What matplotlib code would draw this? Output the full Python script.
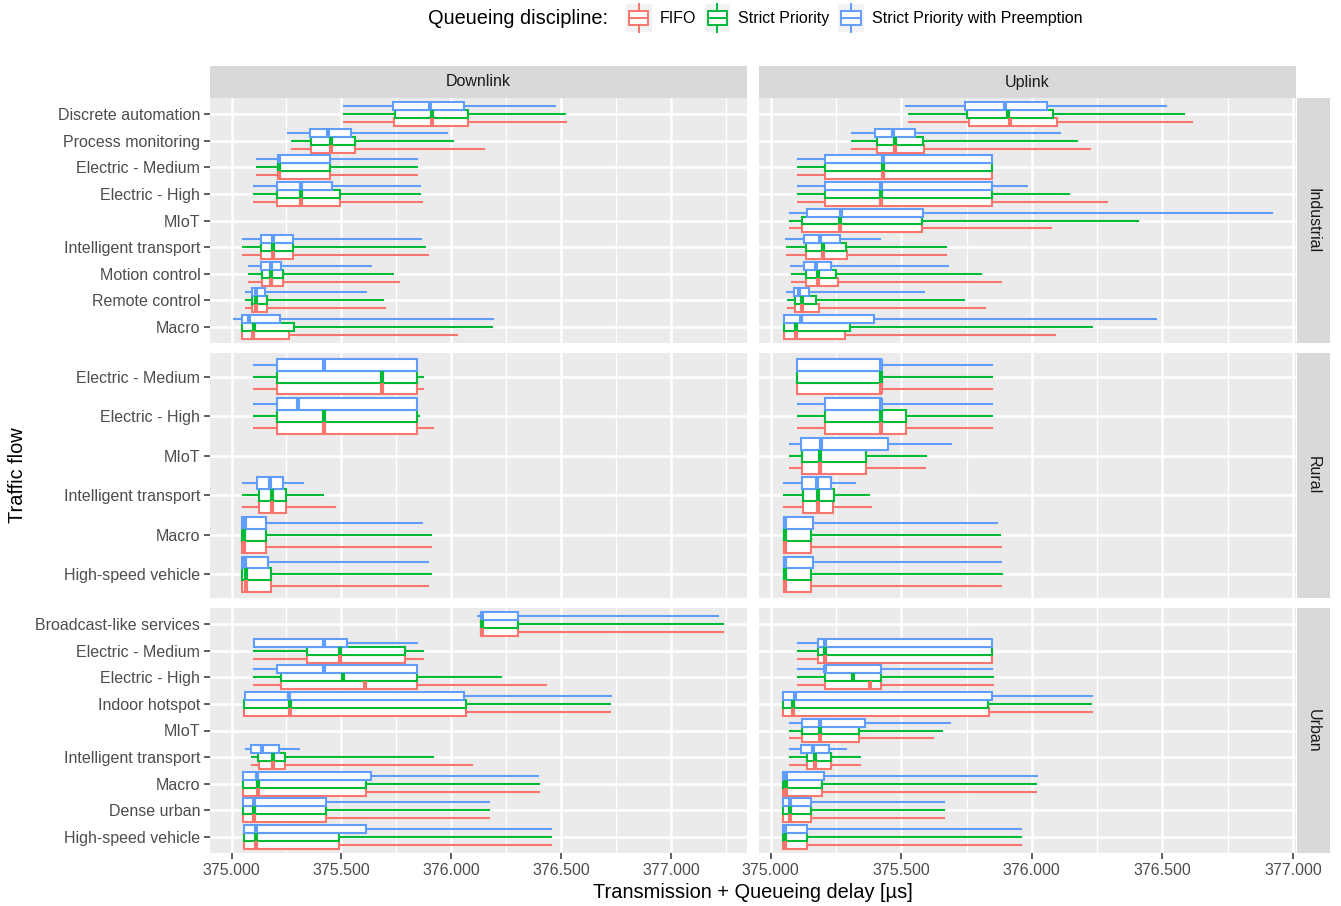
import matplotlib
matplotlib.use("Agg")
import matplotlib.pyplot as plt
from matplotlib.patches import Rectangle, Patch
from matplotlib.lines import Line2D
from matplotlib.legend_handler import HandlerBase
from matplotlib.ticker import MultipleLocator, StrMethodFormatter

plt.rcParams["font.family"] = ["Liberation Sans", "DejaVu Sans"]

# ── datos ──
DISCIPLINES = ["FIFO", "Strict Priority", "Strict Priority with Preemption"]
COLORS = ["#F8766D", "#00BA38", "#619CFF"]
DIRECTIONS = ["Downlink", "Uplink"]
SCENARIOS = ["Industrial", "Rural", "Urban"]

# flujos de arriba hacia abajo
IND_FLOWS = ["Discrete automation", "Process monitoring", "Electric - Medium",
             "Electric - High", "MIoT", "Intelligent transport", "Motion control",
             "Remote control", "Macro"]
RUR_FLOWS = ["Electric - Medium", "Electric - High", "MIoT",
             "Intelligent transport", "Macro", "High-speed vehicle"]
URB_FLOWS = ["Broadcast-like services", "Electric - Medium", "Electric - High",
             "Indoor hotspot", "MIoT", "Intelligent transport", "Macro",
             "Dense urban", "High-speed vehicle"]

# (bigote inf, q1, mediana, q3, bigote sup) para FIFO, SP, SP+preemption; None = sin datos
IND_DL = {
    "Discrete automation": [(375.511, 375.739, 375.914, 376.078, 376.524),
                            (375.511, 375.742, 375.914, 376.075, 376.519),
                            (375.511, 375.735, 375.903, 376.060, 376.474)],
    "Process monitoring": [(375.274, 375.362, 375.453, 375.560, 376.149),
                           (375.274, 375.362, 375.453, 375.560, 376.008),
                           (375.258, 375.357, 375.438, 375.544, 375.979)],
    "Electric - Medium": [(375.114, 375.211, 375.216, 375.450, 375.843),
                          (375.114, 375.211, 375.214, 375.450, 375.843),
                          (375.114, 375.211, 375.214, 375.450, 375.843)],
    "Electric - High": [(375.104, 375.208, 375.317, 375.495, 375.865),
                        (375.104, 375.208, 375.317, 375.495, 375.860),
                        (375.104, 375.208, 375.317, 375.459, 375.856)],
    "MIoT": None,
    "Intelligent transport": [(375.050, 375.135, 375.188, 375.279, 375.893),
                              (375.050, 375.135, 375.188, 375.279, 375.880),
                              (375.050, 375.135, 375.188, 375.279, 375.864)],
    "Motion control": [(375.080, 375.138, 375.179, 375.235, 375.761),
                       (375.080, 375.138, 375.179, 375.235, 375.734),
                       (375.080, 375.135, 375.179, 375.227, 375.636)],
    "Remote control": [(375.067, 375.094, 375.109, 375.162, 375.698),
                       (375.067, 375.094, 375.109, 375.161, 375.688),
                       (375.067, 375.093, 375.109, 375.153, 375.612)],
    "Macro": [(375.049, 375.049, 375.097, 375.260, 376.026),
              (375.049, 375.049, 375.102, 375.282, 376.185),
              (375.013, 375.049, 375.078, 375.221, 376.190)],
}

IND_UL = {
    "Discrete automation": [(375.529, 375.760, 375.917, 376.098, 376.613),
                            (375.529, 375.753, 375.910, 376.083, 376.583),
                            (375.520, 375.743, 375.896, 376.059, 376.515)],
    "Process monitoring": [(375.311, 375.407, 375.477, 375.586, 376.222),
                           (375.311, 375.407, 375.477, 375.582, 376.172),
                           (375.311, 375.401, 375.470, 375.552, 376.109)],
    "Electric - Medium": [(375.104, 375.207, 375.432, 375.847, 375.847),
                          (375.104, 375.207, 375.432, 375.847, 375.847),
                          (375.104, 375.207, 375.432, 375.847, 375.847)],
    "Electric - High": [(375.104, 375.207, 375.421, 375.847, 376.287),
                        (375.104, 375.207, 375.421, 375.847, 376.144),
                        (375.104, 375.207, 375.421, 375.847, 375.982)],
    "MIoT": [(375.075, 375.119, 375.267, 375.578, 376.074),
             (375.075, 375.119, 375.267, 375.578, 376.407),
             (375.075, 375.139, 375.271, 375.584, 376.918)],
    "Intelligent transport": [(375.061, 375.135, 375.200, 375.293, 375.672),
                              (375.061, 375.134, 375.200, 375.287, 375.672),
                              (375.059, 375.129, 375.191, 375.264, 375.418)],
    "Motion control": [(375.082, 375.136, 375.183, 375.257, 375.883),
                       (375.082, 375.136, 375.183, 375.249, 375.807),
                       (375.079, 375.129, 375.174, 375.232, 375.681)],
    "Remote control": [(375.065, 375.094, 375.119, 375.185, 375.820),
                       (375.065, 375.094, 375.119, 375.174, 375.741),
                       (375.064, 375.090, 375.110, 375.147, 375.586)],
    "Macro": [(375.050, 375.050, 375.097, 375.285, 376.090),
              (375.050, 375.050, 375.097, 375.305, 376.229),
              (375.050, 375.050, 375.116, 375.395, 376.474)],
}

RUR_DL = {
    "Electric - Medium": [(375.104, 375.208, 375.683, 375.844, 375.870),
                          (375.104, 375.208, 375.683, 375.844, 375.870),
                          (375.104, 375.208, 375.419, 375.844, 375.844)],
    "Electric - High": [(375.104, 375.208, 375.419, 375.844, 375.917),
                        (375.104, 375.208, 375.419, 375.844, 375.852),
                        (375.104, 375.208, 375.302, 375.844, 375.844)],
    "MIoT": None,
    "Intelligent transport": [(375.052, 375.125, 375.183, 375.250, 375.472),
                              (375.052, 375.125, 375.183, 375.247, 375.416),
                              (375.050, 375.117, 375.174, 375.232, 375.323)],
    "Macro": [(375.049, 375.049, 375.058, 375.156, 375.906),
              (375.049, 375.049, 375.058, 375.156, 375.906),
              (375.049, 375.049, 375.060, 375.159, 375.865)],
    "High-speed vehicle": [(375.049, 375.049, 375.067, 375.179, 375.894),
                           (375.049, 375.049, 375.067, 375.179, 375.906),
                           (375.049, 375.049, 375.063, 375.167, 375.893)],
}

RUR_UL = {
    "Electric - Medium": [(375.102, 375.102, 375.421, 375.422, 375.847),
                          (375.102, 375.102, 375.421, 375.422, 375.847),
                          (375.102, 375.102, 375.421, 375.422, 375.847)],
    "Electric - High": [(375.104, 375.208, 375.421, 375.520, 375.847),
                        (375.104, 375.208, 375.421, 375.520, 375.847),
                        (375.104, 375.208, 375.421, 375.422, 375.847)],
    "MIoT": [(375.076, 375.119, 375.191, 375.365, 375.591),
             (375.076, 375.119, 375.191, 375.365, 375.594),
             (375.076, 375.117, 375.192, 375.451, 375.689)],
    "Intelligent transport": [(375.050, 375.123, 375.181, 375.240, 375.383),
                              (375.050, 375.123, 375.181, 375.241, 375.376),
                              (375.050, 375.119, 375.177, 375.233, 375.323)],
    "Macro": [(375.050, 375.050, 375.057, 375.153, 375.883),
              (375.050, 375.050, 375.057, 375.153, 375.880),
              (375.050, 375.050, 375.057, 375.163, 375.866)],
    "High-speed vehicle": [(375.050, 375.050, 375.057, 375.155, 375.883),
                           (375.050, 375.050, 375.057, 375.154, 375.885),
                           (375.050, 375.050, 375.057, 375.163, 375.883)],
}

URB_DL = {
    "Broadcast-like services": [(376.136, 376.136, 376.140, 376.304, 377.235),
                                (376.136, 376.136, 376.140, 376.304, 377.235),
                                (376.120, 376.136, 376.140, 376.304, 377.214)],
    "Electric - Medium": [(375.102, 375.344, 375.492, 375.791, 375.872),
                          (375.102, 375.344, 375.492, 375.791, 375.872),
                          (375.102, 375.102, 375.419, 375.526, 375.843)],
    "Electric - High": [(375.102, 375.224, 375.606, 375.844, 376.433),
                        (375.102, 375.224, 375.505, 375.844, 376.227),
                        (375.102, 375.208, 375.419, 375.844, 375.844)],
    "Indoor hotspot": [(375.057, 375.057, 375.265, 376.065, 376.721),
                       (375.057, 375.057, 375.265, 376.065, 376.721),
                       (375.060, 375.060, 375.261, 376.060, 376.726)],
    "MIoT": None,
    "Intelligent transport": [(375.093, 375.127, 375.188, 375.244, 376.093),
                              (375.093, 375.119, 375.188, 375.244, 375.919),
                              (375.067, 375.089, 375.140, 375.218, 375.307)],
    "Macro": [(375.050, 375.050, 375.119, 375.612, 376.401),
              (375.050, 375.050, 375.119, 375.612, 376.401),
              (375.050, 375.050, 375.115, 375.636, 376.396)],
    "Dense urban": [(375.050, 375.050, 375.104, 375.430, 376.174),
                    (375.050, 375.050, 375.104, 375.430, 376.174),
                    (375.050, 375.050, 375.104, 375.430, 376.174)],
    "High-speed vehicle": [(375.055, 375.055, 375.110, 375.489, 376.455),
                           (375.055, 375.055, 375.110, 375.489, 376.455),
                           (375.055, 375.055, 375.110, 375.614, 376.455)],
}

URB_UL = {
    "Broadcast-like services": None,
    "Electric - Medium": [(375.104, 375.183, 375.208, 375.847, 375.847),
                          (375.104, 375.183, 375.207, 375.847, 375.847),
                          (375.104, 375.183, 375.207, 375.847, 375.847)],
    "Electric - High": [(375.104, 375.208, 375.379, 375.424, 375.851),
                        (375.104, 375.208, 375.315, 375.424, 375.851),
                        (375.104, 375.208, 375.208, 375.424, 375.847)],
    "Indoor hotspot": [(375.049, 375.049, 375.087, 375.838, 376.229),
                       (375.049, 375.049, 375.087, 375.831, 376.226),
                       (375.049, 375.049, 375.093, 375.849, 376.232)],
    "MIoT": [(375.076, 375.119, 375.191, 375.339, 375.620),
             (375.076, 375.119, 375.191, 375.339, 375.657),
             (375.076, 375.119, 375.191, 375.361, 375.687)],
    "Intelligent transport": [(375.075, 375.139, 375.169, 375.233, 375.341),
                              (375.075, 375.139, 375.169, 375.233, 375.341),
                              (375.075, 375.116, 375.163, 375.222, 375.290)],
    "Macro": [(375.049, 375.049, 375.059, 375.196, 376.015),
              (375.049, 375.049, 375.059, 375.196, 376.015),
              (375.049, 375.049, 375.059, 375.203, 376.019)],
    "Dense urban": [(375.049, 375.049, 375.076, 375.154, 375.665),
                    (375.049, 375.049, 375.076, 375.154, 375.665),
                    (375.049, 375.049, 375.076, 375.154, 375.665)],
    "High-speed vehicle": [(375.049, 375.049, 375.054, 375.139, 375.960),
                           (375.049, 375.049, 375.054, 375.139, 375.960),
                           (375.049, 375.049, 375.054, 375.139, 375.960)],
}

PANELS = [
    [(IND_FLOWS, IND_DL), (IND_FLOWS, IND_UL)],
    [(RUR_FLOWS, RUR_DL), (RUR_FLOWS, RUR_UL)],
    [(URB_FLOWS, URB_DL), (URB_FLOWS, URB_UL)],
]

# ── geometría (pixeles) ──
W, H = 1341, 906
COL_X = [210, 759]
COL_W = 537
ROW_Y = [98, 353, 608]
ROW_H = 245
STRIP = 33
OFFSETS = [-0.3, 0.0, 0.3]
BOX_W = 0.3


def px_rect(x, y, w, h):
    return [x / W, 1 - (y + h) / H, w / W, h / H]


def col_limits(col):
    vals = []
    for row in PANELS:
        _, data = row[col]
        for st in data.values():
            if st is None:
                continue
            for s in st:
                vals.extend([s[0], s[4]])
    lo, hi = min(vals), max(vals)
    pad = 0.05 * (hi - lo)
    return lo - pad, hi + pad


class BoxKey(HandlerBase):
    """Glifo de boxplot vertical para la leyenda."""

    def create_artists(self, legend, orig_handle, xdescent, ydescent,
                       width, height, fontsize, trans):
        c = orig_handle.get_edgecolor()
        x0, y0 = -xdescent, -ydescent
        bg = Rectangle((x0, y0), width, height, fc="#F2F2F2", ec="none",
                       transform=trans)
        box = Rectangle((x0 + 0.12 * width, y0 + 0.25 * height), 0.76 * width,
                        0.5 * height, fc="white", ec=c, lw=1.4, transform=trans)
        med = Line2D([x0 + 0.12 * width, x0 + 0.88 * width],
                     [y0 + 0.5 * height] * 2, color=c, lw=1.4, transform=trans)
        wt = Line2D([x0 + 0.5 * width] * 2, [y0 + 0.75 * height, y0 + height],
                    color=c, lw=1.4, transform=trans)
        wb = Line2D([x0 + 0.5 * width] * 2, [y0, y0 + 0.25 * height],
                    color=c, lw=1.4, transform=trans)
        return [bg, wt, wb, box, med]


fig = plt.figure(figsize=(W / 100, H / 100), dpi=100)

xlims = [col_limits(0), col_limits(1)]

for r, row in enumerate(PANELS):
    for c, (flows, data) in enumerate(row):
        ax = fig.add_axes(px_rect(COL_X[c], ROW_Y[r], COL_W, ROW_H))
        ax.set_facecolor("#EBEBEB")
        ax.set_axisbelow(True)
        for sp in ax.spines.values():
            sp.set_visible(False)
        n = len(flows)
        ypos = [n - i for i in range(n)]
        for k in range(3):
            stats, pos = [], []
            for flow, y in zip(flows, ypos):
                st = data[flow]
                if st is None:
                    continue
                lo, q1, med, q3, hi = st[k]
                stats.append(dict(whislo=lo, q1=q1, med=med, q3=q3, whishi=hi,
                                  fliers=[]))
                pos.append(y + OFFSETS[k])
            col = COLORS[k]
            ax.bxp(stats, positions=pos, widths=BOX_W, orientation="horizontal",
                   patch_artist=True, showcaps=False, showfliers=False,
                   manage_ticks=False,
                   boxprops=dict(facecolor="white", edgecolor=col, linewidth=1.5),
                   whiskerprops=dict(color=col, linewidth=1.5),
                   medianprops=dict(color=col, linewidth=3.0,
                                    solid_capstyle="butt"))
        ax.set_xlim(*xlims[c])
        ax.set_ylim(0.4, n + 0.6)
        ax.xaxis.set_major_locator(MultipleLocator(0.5))
        ax.xaxis.set_minor_locator(MultipleLocator(0.25))
        ax.xaxis.set_major_formatter(StrMethodFormatter("{x:.3f}"))
        ax.set_yticks(ypos)
        ax.grid(which="major", color="white", linewidth=1.8)
        ax.grid(which="minor", axis="x", color="white", linewidth=0.9)
        ax.tick_params(which="minor", length=0)
        ax.tick_params(which="major", color="#333333", width=1.1, length=4,
                       labelsize=11.5, labelcolor="#4D4D4D", pad=3)
        if c == 0:
            ax.set_yticklabels(flows)
        else:
            ax.set_yticklabels([])
            ax.tick_params(axis="y", length=0)
        if r < 2:
            ax.tick_params(axis="x", length=0, labelbottom=False)

# tiras de facetas
for c, name in enumerate(DIRECTIONS):
    sax = fig.add_axes(px_rect(COL_X[c], ROW_Y[0] - 32, COL_W, 32))
    sax.set_facecolor("#D9D9D9")
    sax.set_xticks([])
    sax.set_yticks([])
    for sp in sax.spines.values():
        sp.set_visible(False)
    sax.text(0.5, 0.5, name, ha="center", va="center", fontsize=11.5,
             color="#1A1A1A", transform=sax.transAxes)

for r, name in enumerate(SCENARIOS):
    sax = fig.add_axes(px_rect(COL_X[1] + COL_W + 1, ROW_Y[r], STRIP, ROW_H))
    sax.set_facecolor("#D9D9D9")
    sax.set_xticks([])
    sax.set_yticks([])
    for sp in sax.spines.values():
        sp.set_visible(False)
    sax.text(0.5, 0.5, name, ha="center", va="center", fontsize=11.5,
             color="#1A1A1A", rotation=-90, transform=sax.transAxes)

# títulos de ejes
fig.text((COL_X[0] + COL_X[1] + COL_W) / 2 / W, 1 - 893 / H,
         "Transmission + Queueing delay [µs]", ha="center", va="center",
         fontsize=14.4)
fig.text(18 / W, 1 - 475 / H, "Traffic flow", ha="center", va="center",
         rotation=90, fontsize=14.4)

# leyenda
fig.text(428 / W, 1 - 18 / H, "Queueing discipline:", ha="left", va="center",
         fontsize=14.4)
handles = [Patch(facecolor="white", edgecolor=col, label=lab)
           for col, lab in zip(COLORS, DISCIPLINES)]
fig.legend(handles=handles, handler_map={Patch: BoxKey()}, loc="center left",
           bbox_to_anchor=(626 / W, 1 - 18 / H), ncol=3, frameon=False,
           handlelength=1.6, handleheight=2.3, handletextpad=0.5,
           columnspacing=0.55, fontsize=11.5, borderpad=0, borderaxespad=0)

fig.savefig("out.png", dpi=100)
